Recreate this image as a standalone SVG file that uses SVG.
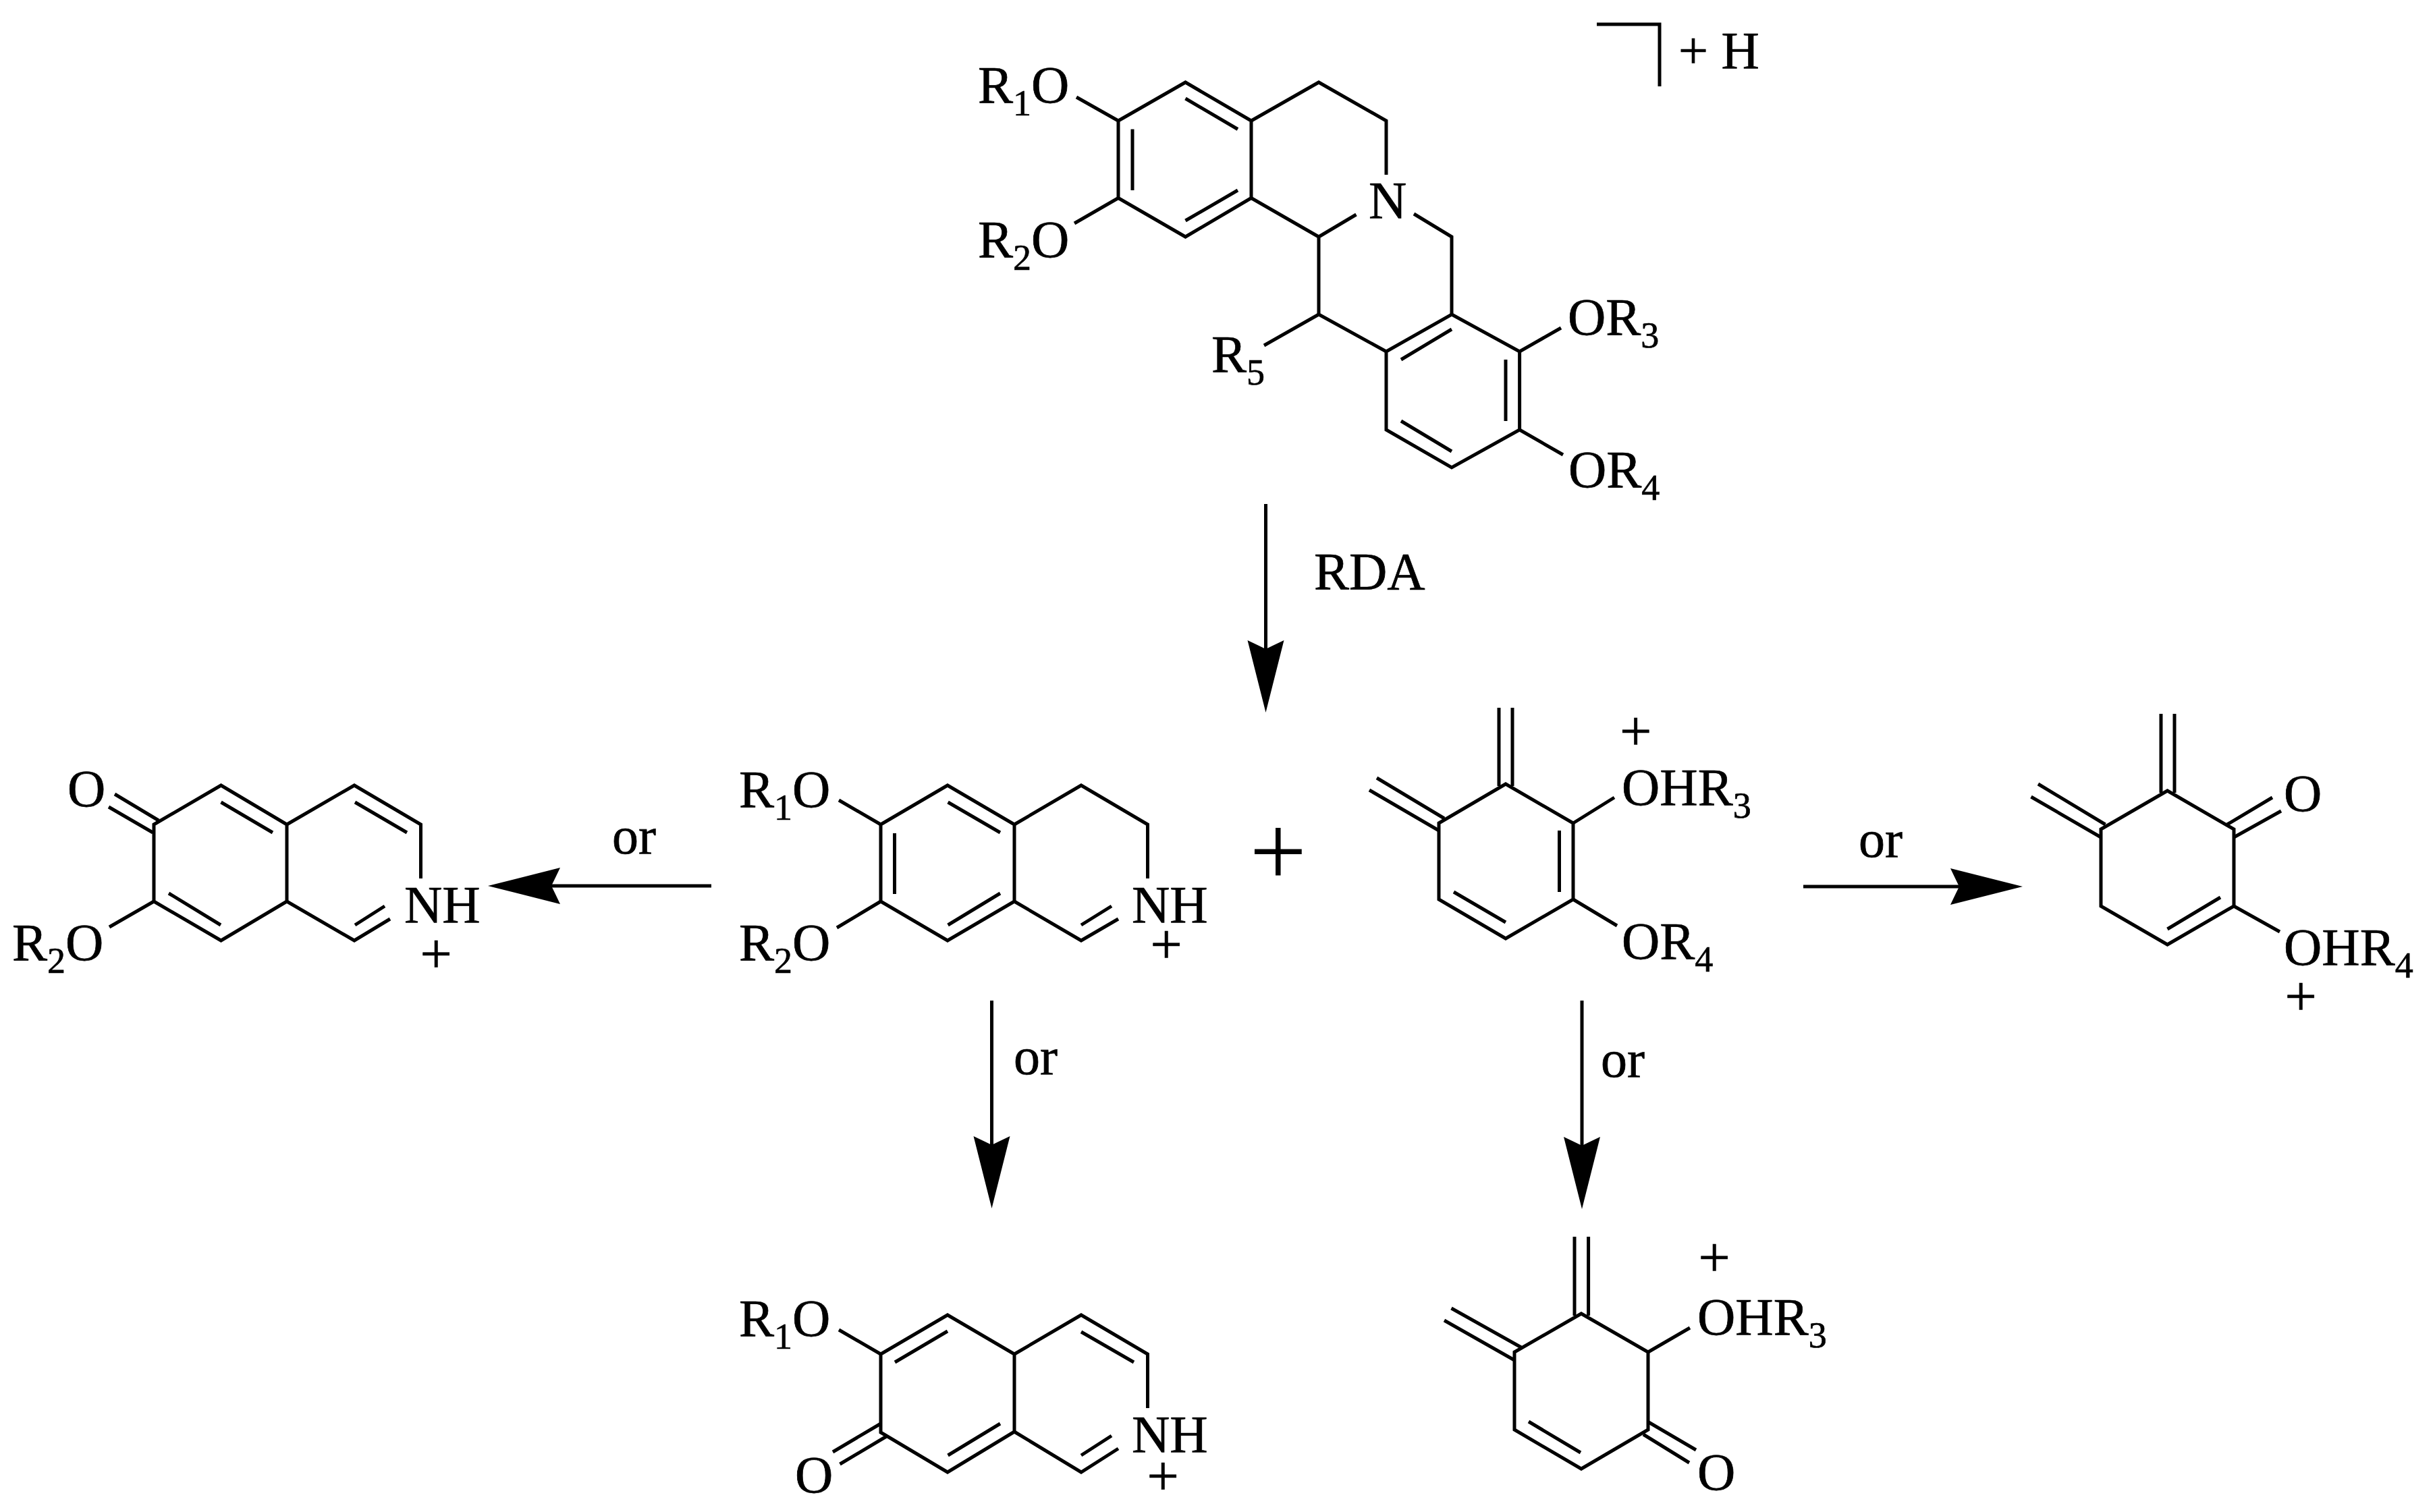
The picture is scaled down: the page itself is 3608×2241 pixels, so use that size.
<svg xmlns="http://www.w3.org/2000/svg" width="3608" height="2241" viewBox="0 0 3608 2241">
<style>
.bg{fill:#fff}
.b{fill:none;stroke:#000;stroke-width:5;stroke-linejoin:miter;stroke-linecap:butt}
.a{fill:none;stroke:#000;stroke-width:5;marker-end:url(#head)}
text{font-family:"Liberation Serif","Times New Roman",serif;font-size:78px;fill:#000;stroke:#000;stroke-width:.7}
.s{font-size:54px}
.p{font-size:84px}
.big{font-size:150px;stroke:none}
</style>
<defs>
<marker id="head" markerUnits="userSpaceOnUse" viewBox="-110 -30 112 60" markerWidth="112" markerHeight="60" refX="-94" refY="0" orient="auto">
<path d="M0 0L-107 -27Q-98 -8 -94 0Q-98 8 -107 27Z" fill="#000"/>
</marker>
</defs>
<rect class="bg" width="3608" height="2241"/>
<g id="connectors">
<path class="a" d="M1875.5 747V962"/>
<path class="a" d="M1469.5 1483V1697"/>
<path class="a" d="M2344 1483V1698"/>
<path class="a" d="M1054 1313H817"/>
<path class="a" d="M2672 1314H2903"/>
<text x="1947" y="873">RDA</text>
<text x="907" y="1265">or</text>
<text x="2754" y="1270">or</text>
<text x="1502" y="1592">or</text>
<text x="2372" y="1596">or</text>
</g>
<g id="precursor">
<path class="b" d="M1657 179L1756.5 122L1854 179L1854 293.5L1756.5 351L1657 293.5Z"/>
<path class="b" d="M1854 179L1954 122L2054 179L2054 259M1854 293.5L1954 351L2009.5 318M2095 317L2151 351L2151 466M1954 351L1954 466L2054 521"/>
<path class="b" d="M2151 466L2251.6 521L2251.6 637L2151 693L2054 637L2054 521Z"/>
<path class="b" d="M2151 488L2076 533M2231 533L2231 624M2076 624L2151 669M1756.5 146L1834 191.5M1678 191.5L1678 282M1834 282L1756.5 327"/>
<path class="b" d="M1657 179L1595 144M1657 293.5L1592 331M1954 466L1873 512M2251.6 521L2313 486M2251.6 637L2316 674"/>
<path class="b" d="M2366 36H2459V128"/>
<text x="1449" y="152">R<tspan class="s" dy="19">1</tspan><tspan dy="-19">O</tspan></text>
<text x="1449" y="381">R<tspan class="s" dy="19">2</tspan><tspan dy="-19">O</tspan></text>
<text x="2028" y="323">N</text>
<text x="1795" y="551">R<tspan class="s" dy="19">5</tspan></text>
<text x="2323" y="496">OR<tspan class="s" dy="19">3</tspan></text>
<text x="2324" y="722">OR<tspan class="s" dy="19">4</tspan></text>
<text x="2487" y="101">+ H</text>
</g>
<g id="dihydroisoquinolinium">
<path class="b" d="M1305 1222L1404 1164L1503 1222L1503 1336L1404 1394L1305 1336Z"/>
<path class="b" d="M1503 1222L1602 1164L1700.5 1222L1700.5 1302M1503 1336L1602 1394L1657 1362"/>
<path class="b" d="M1647 1343L1602 1371M1404.6 1189L1482 1234M1325.5 1235L1325.5 1325M1482 1324L1404.6 1371"/>
<path class="b" d="M1305 1222L1243 1186M1305 1336L1240 1375"/>
<text x="1095" y="1196">R<tspan class="s" dy="19">1</tspan><tspan dy="-19">O</tspan></text>
<text x="1095" y="1423">R<tspan class="s" dy="19">2</tspan><tspan dy="-19">O</tspan></text>
<text x="1677" y="1367">NH</text>
<text class="p" x="1704.5" y="1428">+</text>
</g>
<g id="plus-sign"><text class="big" x="1851.5" y="1312">+</text></g>
<g id="diene-cation">
<path class="b" d="M2132 1220L2231 1162L2331 1220L2331 1333L2231 1391L2132 1333Z"/>
<path class="b" d="M2221 1049V1165M2241 1049V1165M2040 1153L2140 1213M2029 1171L2132 1231"/>
<path class="b" d="M2310.5 1231V1322M2154 1322L2231 1367M2331 1220L2392 1182M2331 1333L2396 1372"/>
<text x="2403" y="1193">OHR<tspan class="s" dy="19">3</tspan></text>
<text class="p" x="2400" y="1112">+</text>
<text x="2403" y="1421">OR<tspan class="s" dy="19">4</tspan></text>
</g>
<g id="product-left">
<path class="b" d="M228 1222L327.5 1164L425 1222L425 1336L327.5 1394L228 1336Z"/>
<path class="b" d="M425 1222L525 1164L623.5 1222L623.5 1302M425 1336L525 1394L578 1362"/>
<path class="b" d="M570 1343L526 1371M170 1177L235 1216M161 1196L226.5 1234M327.5 1189L404 1234M526 1189L603 1234M250 1324L327 1371M228 1336L162 1374"/>
<text x="100" y="1195">O</text>
<text x="18" y="1423">R<tspan class="s" dy="19">2</tspan><tspan dy="-19">O</tspan></text>
<text x="599" y="1367">NH</text>
<text class="p" x="622.5" y="1442">+</text>
</g>
<g id="product-bottom-left">
<path class="b" d="M1305 2007L1404 1949L1503 2007L1503 2122L1404 2182L1305 2123Z"/>
<path class="b" d="M1503 2007L1602 1949L1700.5 2007L1700.5 2087M1503 2122L1602 2182L1657 2147"/>
<path class="b" d="M1647 2128L1602 2157M1404 1973L1326 2019M1602 1974L1680 2019M1482 2110L1404.6 2157M1305 2110L1234 2152M1315 2128L1244.5 2170M1305 2007L1243 1971"/>
<text x="1095" y="1980">R<tspan class="s" dy="19">1</tspan><tspan dy="-19">O</tspan></text>
<text x="1178" y="2212">O</text>
<text x="1677" y="2152">NH</text>
<text class="p" x="1699.5" y="2216">+</text>
</g>
<g id="product-bottom-right">
<path class="b" d="M2244 2004L2343 1947L2442 2004L2442 2119L2343 2177L2244 2119Z"/>
<path class="b" d="M2333 1833V1950M2353.6 1833V1950M2150.5 1939L2254 1997M2140 1957L2244 2016M2442 2004L2504 1968M2443 2108L2513 2149M2435 2126L2503 2168M2265 2107L2342 2153"/>
<text x="2515" y="1978">OHR<tspan class="s" dy="19">3</tspan></text>
<text class="p" x="2516.5" y="1892">+</text>
<text x="2515" y="2208">O</text>
</g>
<g id="product-right">
<path class="b" d="M3113 1229L3211.5 1172L3310 1229L3310 1343L3211.5 1400L3113 1343Z"/>
<path class="b" d="M3202 1058V1175M3222 1058V1175M3020 1162L3119.5 1222M3009.5 1181L3113 1241M3367 1182L3300 1222M3380 1202L3310 1241M3290 1330L3211.5 1377M3310 1343L3378 1381"/>
<text x="3384" y="1202">O</text>
<text x="3384" y="1430">OHR<tspan class="s" dy="19">4</tspan></text>
<text class="p" x="3385.5" y="1505">+</text>
</g>
</svg>
